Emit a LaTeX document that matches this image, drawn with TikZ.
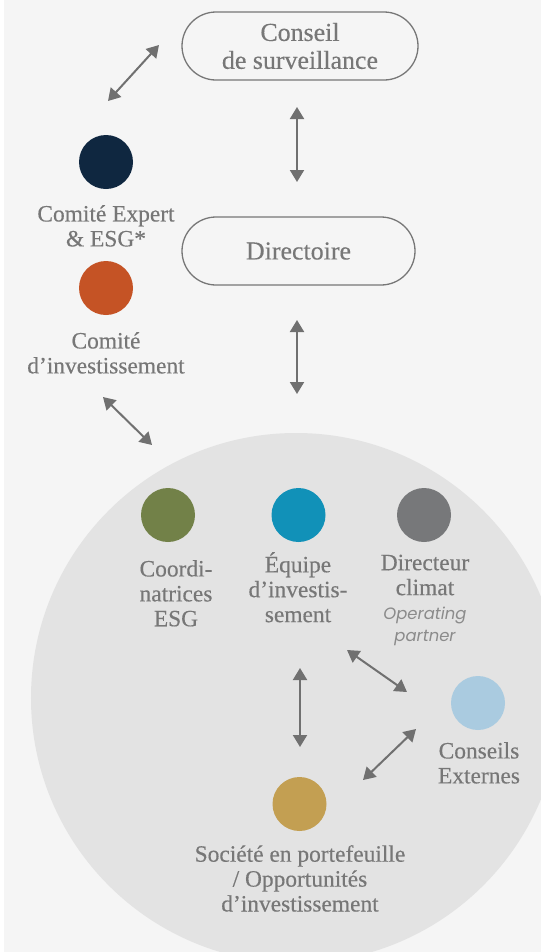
\documentclass[tikz,border=0pt]{standalone}
\usepackage{fontspec}
\setmainfont{Liberation Serif}[FakeBold=0.35]
\newfontfamily\partnerfont{Poppins}
\usetikzlibrary{arrows.meta,positioning}
\definecolor{bgcol}{HTML}{F5F5F5}
\definecolor{disccol}{HTML}{E3E3E3}
\definecolor{inkcol}{HTML}{777777}
\definecolor{arrowcol}{HTML}{707070}
\definecolor{navy}{HTML}{0F2740}
\definecolor{rust}{HTML}{C55325}
\definecolor{olivegreen}{HTML}{728148}
\definecolor{teamblue}{HTML}{1191B8}
\definecolor{ashgray}{HTML}{77787A}
\definecolor{skyblue}{HTML}{AACBE0}
\definecolor{ochre}{HTML}{C39F52}
\begin{document}
\begin{tikzpicture}[x=1bp, y=-1bp,
    box/.style={draw=inkcol, line width=1.3bp, fill=bgcol, rounded corners=34bp,
      minimum width=236bp, minimum height=68bp, text=inkcol,
      font=\fontsize{26}{28}\selectfont, align=center},
    dot/.style={circle, minimum size=54bp, inner sep=0pt},
    caption/.style={text=inkcol, font=\fontsize{23.5}{25}\selectfont,
      align=center, inner sep=0pt, anchor=north},
    link/.style={arrowcol, line width=2bp,
      {Triangle[length=12bp, width=14bp]}-{Triangle[length=12bp, width=14bp]}}]
  \clip (0, 0) rectangle (541, 952);
  \fill [white] (0, 0) rectangle (541, 952);
  \fill [bgcol] (4, 0) rectangle (541, 952);
  \fill [disccol] (296, 698) circle [radius=265bp];

  \node [box] (conseil) at (300, 46) {Conseil\\de surveillance};
  \node [box, minimum width=233bp] (directoire) at (298.5, 251) {Directoire};

  \node [dot, fill=navy] (expert) at (106, 162) {};
  \node [caption] (expertlabel) at (106, 205) {Comité Expert\\\& ESG*};
  \node [dot, fill=rust] (invest) at (106, 288) {};
  \node [caption] (investlabel) at (106, 332) {Comité\\d’investissement};

  \node [dot, fill=olivegreen] (coord) at (168, 515) {};
  \node [caption] (coordlabel) at (176, 560) {Coordi-\\natrices\\ESG};
  \node [dot, fill=teamblue] (team) at (298.5, 515) {};
  \node [caption] (teamlabel) at (298, 552) {Équipe\\d’investis-\\sement};
  \node [dot, fill=ashgray] (climat) at (424, 515) {};
  \node [caption] (climatlabel) at (425, 554.5) {Directeur\\climat};
  \node [caption, font=\partnerfont\itshape\fontsize{16.5}{22}\selectfont, text=inkcol!85]
    (partner) at (425, 606.5) {Operating\\partner};
  \node [dot, fill=skyblue] (externes) at (478, 703) {};
  \node [caption] (externeslabel) at (479, 742) {Conseils\\Externes};
  \node [dot, fill=ochre] (societe) at (299.5, 804) {};
  \node [caption] (societelabel) at (300, 845) {Société en portefeuille\\/ Opportunités\\d’investissement};

  \coordinate (e1) at (108, 101);
  \coordinate (e2) at (159, 45);
  \coordinate (d1) at (297, 107);
  \coordinate (d2) at (297, 182);
  \coordinate (t1) at (297, 320);
  \coordinate (t2) at (297, 394);
  \coordinate (i1) at (103, 397);
  \coordinate (i2) at (152, 445);
  \coordinate (x1) at (347, 650);
  \coordinate (x2) at (407, 692);
  \coordinate (s1) at (300, 668);
  \coordinate (s2) at (300, 747);
  \coordinate (p1) at (416, 729);
  \coordinate (p2) at (363, 780);

  \draw [link] (e1) -- (e2);
  \draw [link] (d1) -- (d2);
  \draw [link] (t1) -- (t2);
  \draw [link] (i1) -- (i2);
  \draw [link] (x1) -- (x2);
  \draw [link] (s1) -- (s2);
  \draw [link] (p1) -- (p2);
\end{tikzpicture}
\end{document}
